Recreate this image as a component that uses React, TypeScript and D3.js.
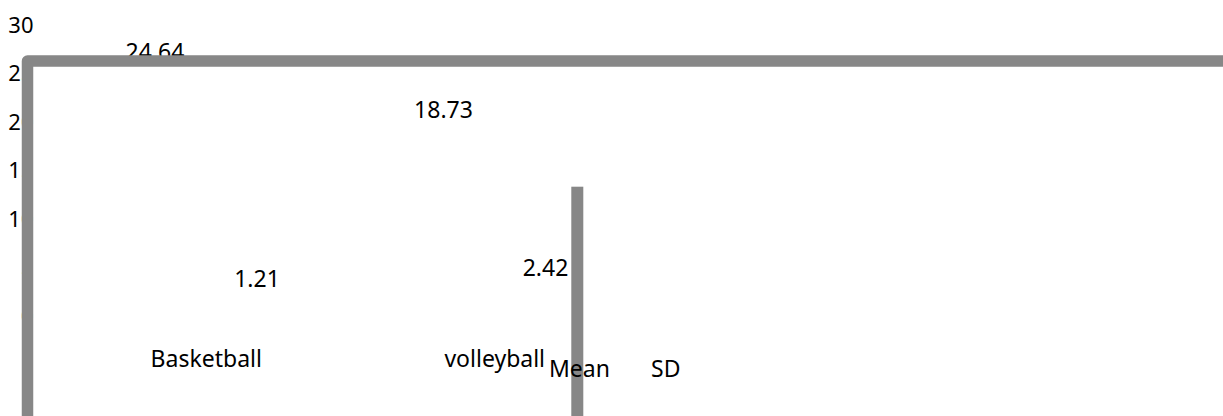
import React from "react";
import * as d3 from "d3";

const categories = ["Basketball", "volleyball"];
const seriesNames = ["Mean", "SD"];
const meanValues = [24.64, 18.73];
const sdValues = [1.21, 2.42];
const yTicks = [0, 5, 10, 15, 20, 25, 30];

const W = 1223;
const H = 416;
const FONT = "'Noto Sans', 'Open Sans', sans-serif";
const GRAY = "#878787";

export default function App() {
  const y = d3.scaleLinear().domain([0, 30]).range([316, 25]);
  const x0 = d3.scaleBand<string>().domain(categories).range([62, 639]).padding(0);
  const x1 = d3.scaleBand<string>().domain(seriesNames).range([42, 246]).padding(0);
  const rows = categories.map((c, i) => ({ cat: c, values: [meanValues[i], sdValues[i]] }));
  const legendX = d3.scaleBand<string>().domain(seriesNames).range([549, 753]);

  return (
    <svg
      width={W}
      height={H}
      style={{ position: "absolute", left: 0, top: 0, display: "block" }}
      fontFamily={FONT}
    >
      <rect x={0} y={0} width={W} height={H} fill="#fff" />
      {/* y tick labels */}
      {yTicks.map((t) => (
        <text key={t} x={33.5} y={y(t) + 7.8} textAnchor="end" fontSize={22} fill="#000">
          {t}
        </text>
      ))}
      {/* value labels */}
      {rows.map((r) =>
        r.values.map((v, j) => (
          <text
            key={r.cat + j}
            x={(x0(r.cat) as number) + (x1(seriesNames[j]) as number) + x1.bandwidth() / 2}
            y={y(v) - 16.8}
            textAnchor="middle"
            fontSize={23}
            fill="#000"
          >
            {v.toFixed(2)}
          </text>
        ))
      )}
      {/* frame */}
      <rect
        x={27.5}
        y={61}
        width={1400}
        height={600}
        fill="none"
        stroke={GRAY}
        strokeWidth={11.5}
        strokeLinejoin="round"
      />
      {/* vertical bar */}
      <rect x={571.3} y={186.7} width={12} height={300} fill={GRAY} />
      {/* category labels */}
      {categories.map((c) => (
        <text
          key={c}
          x={(x0(c) as number) + x0.bandwidth() / 2}
          y={367}
          textAnchor="middle"
          fontSize={23}
          fill="#000"
        >
          {c}
        </text>
      ))}
      {/* legend text */}
      {seriesNames.map((s) => (
        <text key={s} x={legendX(s) as number} y={376.8} fontSize={23} fill="#000">
          {s}
        </text>
      ))}
    </svg>
  );
}
